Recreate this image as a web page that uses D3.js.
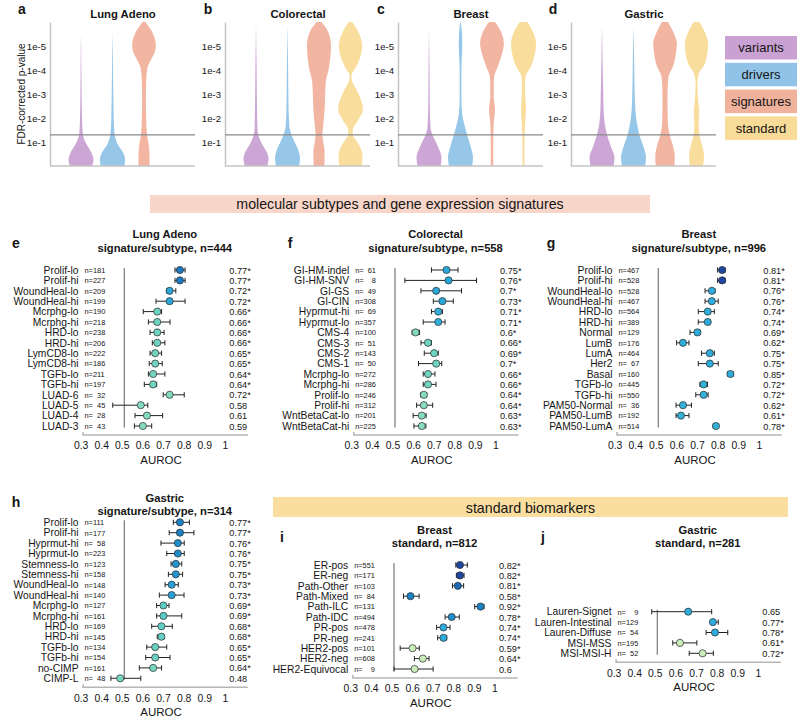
<!DOCTYPE html>
<html><head><meta charset="utf-8">
<script src="https://cdn.jsdelivr.net/npm/d3@7"></script>
<style>
body{margin:0;background:#fff;}
svg text{font-family:"Liberation Sans",Arial,Helvetica,sans-serif;fill:#151515;}
</style></head><body>
<svg id="chart" width="800" height="719"></svg>
<script>
// ---------------- DATA ----------------
const violinCategories = ["variants","drivers","signatures","standard"];
const violinTitles = ["Lung Adeno","Colorectal","Breast","Gastric"];
const violinLetters = ["a","b","c","d"];
const pTickExponents = [1,2,3,4,5];
const significanceP = 0.05;

// violin densities: [-log10(FDR p), relative half-width]
const lungAdenoVariants   = [[0,.88],[.25,1],[.55,.84],[.85,.5],[1.1,.26],[1.4,.13],[2,.08],[3,.05],[4,.03],[5,.015],[5.45,0]];
const lungAdenoDrivers    = [[0,.96],[.28,1],[.6,.8],[.9,.42],[1.2,.21],[1.6,.12],[2.5,.08],[3.5,.05],[4.5,.03],[5.6,0]];
const lungAdenoSignatures = [[0,.45],[.4,.44],[.8,.4],[1.3,.24],[2,.17],[2.8,.15],[3.6,.18],[4.1,.28],[4.4,.53],[4.7,.82],[5,.95],[5.5,.73],[5.8,.4],[6,.12]];

const colorectalVariants   = [[0,.9],[.3,1],[.6,.84],[.9,.5],[1.2,.24],[1.5,.12],[2.5,.08],[4,.05],[5.9,0]];
const colorectalDrivers    = [[0,.92],[.3,1],[.7,.84],[1,.56],[1.3,.32],[1.7,.14],[2.5,.08],[4,.05],[5.9,0]];
const colorectalSignatures = [[0,.43],[.6,.45],[1,.34],[1.3,.27],[1.7,.34],[2.2,.43],[2.8,.48],[3.45,.53],[4.1,.8],[5,.96],[5.5,.8],[5.8,.5],[6,.2]];
const colorectalStandard   = [[0,.9],[.4,.96],[.8,.76],[1.1,.4],[1.3,.18],[1.5,.18],[1.9,.6],[2.35,1],[2.9,.73],[3.3,.35],[3.5,.15],[3.75,.07],[4.15,.47],[4.6,.82],[5,.93],[5.5,.7],[5.8,.4],[6,.15]];

const breastVariants   = [[0,.93],[.35,1],[.8,.72],[1.1,.45],[1.3,.27],[1.6,.12],[2.5,.06],[4,.04],[5.7,0]];
const breastDrivers    = [[0,.93],[.35,1],[.8,.82],[1.3,.53],[1.8,.27],[2.2,.13],[2.8,.07],[4,.07],[4.5,.1],[5,.14],[5.5,.12],[6,.02]];
const breastSignatures = [[0,.1],[1,.1],[1.8,.14],[2.35,.24],[2.9,.14],[3.4,.14],[3.75,.18],[4.15,.47],[4.55,.73],[5.1,.95],[5.5,.8],[5.8,.5],[6,.25]];
const breastStandard   = [[0,.08],[1,.08],[1.8,.14],[2.4,.2],[2.9,.14],[3.4,.12],[3.75,.17],[4.15,.6],[4.6,.88],[5.1,1],[5.5,.83],[5.8,.55],[6,.3]];

const gastricVariants   = [[0,.93],[.35,1],[.8,.72],[1.3,.4],[1.8,.21],[2.3,.13],[3,.1],[4,.06],[5,.03],[5.8,0]];
const gastricDrivers    = [[0,.93],[.35,1],[.8,.8],[1.3,.47],[1.8,.27],[2.3,.15],[3.4,.08],[4.5,.05],[5.8,0]];
const gastricSignatures = [[0,.75],[.4,.78],[.8,.66],[1.3,.37],[1.8,.23],[2.8,.2],[3.5,.24],[3.8,.32],[4.15,.64],[4.8,.9],[5.1,.95],[5.5,.73],[5.8,.45],[6,.25]];
const gastricStandard   = [[0,.53],[.4,.6],[.9,.43],[1.3,.23],[1.8,.17],[2.2,.22],[2.75,.13],[3.45,.07],[3.85,.2],[4.3,.7],[5.1,.93],[5.5,.73],[5.8,.45],[6,.25]];

const bannerTexts = ["molecular subtypes and gene expression signatures","standard biomarkers"];
const aurocTicks = [0.3,0.4,0.5,0.6,0.7,0.8,0.9,1];

// forest rows: [label, n, AUROC, CI low, CI high, significant, colour score]
const lungAdenoRows = [
 ["Prolif-lo",181,0.77,0.746,0.795,1,0.80],["Prolif-hi",227,0.77,0.746,0.795,1,0.80],
 ["WoundHeal-lo",209,0.72,0.706,0.750,1,0.66],["WoundHeal-hi",199,0.72,0.654,0.795,1,0.66],
 ["Mcrphg-lo",190,0.66,0.592,0.681,1,0.45],["Mcrphg-hi",218,0.66,0.617,0.722,1,0.45],
 ["HRD-lo",238,0.66,0.625,0.693,1,0.45],["HRD-hi",206,0.66,0.636,0.697,1,0.45],
 ["LymCD8-lo",222,0.65,0.625,0.681,1,0.44],["LymCD8-hi",186,0.65,0.621,0.684,1,0.44],
 ["TGFb-lo",211,0.64,0.617,0.697,1,0.43],["TGFb-hi",197,0.64,0.597,0.657,1,0.43],
 ["LUAD-6",32,0.72,0.689,0.791,1,0.37],["LUAD-5",45,0.58,0.444,0.614,0,0.37],
 ["LUAD-4",28,0.61,0.552,0.686,0,0.37],["LUAD-3",43,0.59,0.549,0.633,0,0.37]];
const colorectalRows = [
 ["GI-HM-indel",61,0.75,0.677,0.806,1,0.66],["GI-HM-SNV",8,0.76,0.548,0.896,1,0.66],
 ["GI-GS",49,0.7,0.626,0.823,1,0.66],["GI-CIN",308,0.73,0.686,0.783,1,0.66],
 ["Hyprmut-hi",69,0.71,0.677,0.730,1,0.63],["Hyprmut-lo",357,0.71,0.637,0.743,1,0.63],
 ["CMS-4",100,0.6,0.583,0.619,1,0.38],["CMS-3",51,0.66,0.626,0.677,1,0.45],
 ["CMS-2",143,0.69,0.642,0.710,1,0.45],["CMS-1",50,0.7,0.614,0.727,1,0.45],
 ["Mcrphg-lo",272,0.66,0.637,0.694,1,0.43],["Mcrphg-hi",286,0.66,0.637,0.699,1,0.43],
 ["Prolif-lo",246,0.64,0.625,0.654,1,0.36],["Prolif-hi",312,0.64,0.605,0.683,1,0.36],
 ["WntBetaCat-lo",201,0.63,0.588,0.651,1,0.36],["WntBetaCat-hi",225,0.63,0.592,0.650,1,0.36]];
const breastRows = [
 ["Prolif-lo",467,0.81,0.788,0.824,1,0.92],["Prolif-hi",528,0.81,0.788,0.824,1,0.92],
 ["WoundHeal-lo",528,0.76,0.727,0.775,1,0.64],["WoundHeal-hi",467,0.76,0.727,0.791,1,0.64],
 ["HRD-lo",564,0.74,0.694,0.772,1,0.64],["HRD-hi",389,0.74,0.694,0.751,1,0.64],
 ["Normal",129,0.69,0.654,0.703,1,0.64],["LumB",176,0.62,0.589,0.649,1,0.64],
 ["LumA",464,0.75,0.71,0.772,1,0.64],["Her2",67,0.75,0.694,0.791,1,0.64],
 ["Basal",160,0.85,0.837,0.864,1,0.64],["TGFb-lo",445,0.72,0.702,0.739,1,0.62],
 ["TGFb-hi",550,0.72,0.682,0.742,1,0.62],["PAM50-Normal",36,0.62,0.586,0.661,1,0.62],
 ["PAM50-LumB",192,0.61,0.586,0.649,1,0.62],["PAM50-LumA",514,0.78,0.767,0.791,1,0.62]];
const gastricRows = [
 ["Prolif-lo",111,0.77,0.738,0.816,1,0.78],["Prolif-hi",177,0.77,0.718,0.838,1,0.78],
 ["Hyprmut-hi",58,0.76,0.678,0.791,1,0.74],["Hyprmut-lo",223,0.76,0.706,0.791,1,0.74],
 ["Stemness-lo",123,0.75,0.727,0.779,1,0.72],["Stemness-hi",158,0.75,0.714,0.783,1,0.72],
 ["WoundHeal-lo",148,0.73,0.698,0.762,1,0.68],["WoundHeal-hi",140,0.73,0.67,0.79,1,0.68],
 ["Mcrphg-lo",127,0.69,0.657,0.717,1,0.5],["Mcrphg-hi",161,0.69,0.657,0.779,1,0.5],
 ["HRD-lo",169,0.68,0.633,0.733,1,0.48],["HRD-hi",145,0.68,0.66,0.693,1,0.48],
 ["TGFb-lo",134,0.65,0.609,0.706,1,0.46],["TGFb-hi",154,0.65,0.604,0.722,1,0.46],
 ["no-CIMP",161,0.64,0.573,0.681,1,0.42],["CIMP-L",48,0.48,0.435,0.58,0,0.42]];
const breastStandardRows = [
 ["ER-pos",551,0.82,0.80,0.856,1,0.92],["ER-neg",171,0.82,0.803,0.84,1,0.92],
 ["Path-Other",103,0.81,0.784,0.838,1,0.83],["Path-Mixed",84,0.58,0.546,0.622,1,0.78],
 ["Path-ILC",131,0.92,0.892,0.937,1,0.78],["Path-IDC",494,0.78,0.748,0.817,1,0.74],
 ["PR-pos",478,0.74,0.707,0.772,1,0.64],["PR-neg",241,0.74,0.712,0.756,1,0.64],
 ["HER2-pos",101,0.59,0.53,0.623,1,0.25],["HER2-neg",608,0.64,0.599,0.67,1,0.25],
 ["HER2-Equivocal",9,0.6,0.50,0.69,0,0.25]];
const gastricStandardRows = [
 ["Lauren-Signet",9,0.65,0.473,0.764,0,0.64],["Lauren-Intestinal",129,0.77,0.764,0.796,1,0.64],
 ["Lauren-Diffuse",54,0.78,0.737,0.842,1,0.64],["MSI-MSS",195,0.61,0.575,0.692,1,0.25],
 ["MSI-MSI-H",52,0.72,0.655,0.772,1,0.25]];

const forestTitles = [
 ["e","Lung Adeno","signature/subtype",444],["f","Colorectal","signature/subtype",558],
 ["g","Breast","signature/subtype",996],["h","Gastric","signature/subtype",314],
 ["i","Breast","standard",812],["j","Gastric","standard",281]];

// ---------------- DRAWING ----------------
const svg = d3.select("#chart");
const violinColor = d3.scaleOrdinal().domain(violinCategories)
  .range(["#c9a2d3","#90c3e7","#f0b19d","#f8db97"]);

// top violin panels
const vTop = 22, vBottom = 166;
const yV = d3.scaleLog().domain([1, 1e-6]).range([vBottom, vTop]);
const xCat = d3.scalePoint().domain(violinCategories).range([31, 125.5]);
const wScale = d3.scaleLinear().domain([0, 1]).range([0, 12.5]);
const violinData = [
  [lungAdenoVariants, lungAdenoDrivers, lungAdenoSignatures, null],
  [colorectalVariants, colorectalDrivers, colorectalSignatures, colorectalStandard],
  [breastVariants, breastDrivers, breastSignatures, breastStandard],
  [gastricVariants, gastricDrivers, gastricSignatures, gastricStandard]];
const panelX = [50, 225, 398, 571];
const panelW = 145;

violinData.forEach((sets, pi) => {
  const g = svg.append("g").attr("transform", `translate(${panelX[pi]},0)`);
  sets.forEach((dens, ci) => {
    if (!dens) return;
    const cat = violinCategories[ci];
    const cx = xCat(cat);
    const area = d3.area().curve(d3.curveMonotoneY)
      .y(d => yV(Math.pow(10, -d[0])))
      .x0(d => cx - wScale(d[1]))
      .x1(d => cx + wScale(d[1]));
    g.append("path").attr("d", area(dens)).attr("fill", violinColor(cat)).attr("opacity", 0.95);
  });
  // y axis
  const ax = d3.axisLeft(yV).tickValues(pTickExponents.map(e => Math.pow(10, -e)))
    .tickFormat(d => "1e-" + Math.round(-Math.log10(d))).tickSize(0).tickPadding(4);
  const axG = g.append("g").call(ax);
  axG.select(".domain").attr("stroke", "#c4c4c4").attr("stroke-width", 1.5);
  axG.selectAll("text").attr("font-size", 9.6).attr("fill", "#151515")
     .attr("font-family", '"Liberation Sans",Arial,sans-serif');
  // bottom axis line
  g.append("line").attr("x1", 0).attr("x2", panelW).attr("y1", vBottom).attr("y2", vBottom)
    .attr("stroke", "#c4c4c4").attr("stroke-width", 1.5);
  // significance threshold
  g.append("line").attr("x1", 0).attr("x2", panelW).attr("y1", yV(significanceP)).attr("y2", yV(significanceP))
    .attr("stroke", "#8a8a8a").attr("stroke-width", 1.3);
  g.append("text").attr("x", 73).attr("y", 18).attr("text-anchor", "middle")
    .attr("font-size", 11.3).attr("font-weight", "bold").text(violinTitles[pi]);
});
[[22,14],[208,14],[381,14],[553,14]].forEach((p, i) => {
  svg.append("text").attr("x", p[0]).attr("y", p[1]).attr("text-anchor", "middle")
    .attr("font-size", 14).attr("font-weight", "bold").text(violinLetters[i]);
});
svg.append("text").attr("transform", "translate(25,94) rotate(-90)").attr("text-anchor", "middle")
  .attr("font-size", 10).text("FDR-corrected p-value");

// legend
violinCategories.forEach((c, i) => {
  const y0 = 36 + i * 26.8;
  svg.append("rect").attr("x", 725).attr("y", y0).attr("width", 72).attr("height", 23.5)
    .attr("fill", violinColor(c));
  svg.append("text").attr("x", 761).attr("y", y0 + 16.3).attr("text-anchor", "middle")
    .attr("font-size", 13).text(c);
});

// banners
svg.append("rect").attr("x", 150).attr("y", 195).attr("width", 500).attr("height", 18).attr("fill", "#f9d6ca");
svg.append("text").attr("x", 400).attr("y", 209).attr("text-anchor", "middle").attr("font-size", 14.2).text(bannerTexts[0]);
svg.append("rect").attr("x", 273).attr("y", 497).attr("width", 515).attr("height", 20).attr("fill", "#f9dea0");
svg.append("text").attr("x", 530.5).attr("y", 512.5).attr("text-anchor", "middle").attr("font-size", 14.2).text(bannerTexts[1]);

// forest plots
const dotColor = d3.scaleLinear()
  .domain([0.25, 0.36, 0.45, 0.52, 0.64, 0.78, 0.92])
  .range(["#cbedba", "#86dbc0", "#6ed3c0", "#55c8c8", "#2eacdb", "#1c80c4", "#1f479f"]);

const forestLayouts = [
  {x05:124.3, row0:270,   t1:238, t2:251.5, lx:16,  ly:248},
  {x05:395,   row0:270,   t1:238, t2:251.5, lx:290, ly:248},
  {x05:658.3, row0:270,   t1:238, t2:251.5, lx:551, ly:248},
  {x05:124.3, row0:522.3, t1:502, t2:514.5, lx:16,  ly:507},
  {x05:394,   row0:565,   t1:534, t2:546.5, lx:282, ly:542},
  {x05:657.3, row0:611.7, t1:534, t2:546.5, lx:543, ly:542}];
const forestData = [lungAdenoRows, colorectalRows, breastRows, gastricRows, breastStandardRows, gastricStandardRows];

forestData.forEach((rows, pi) => {
  const L = forestLayouts[pi], T = forestTitles[pi];
  const x = d3.scaleLinear().domain([0.3, 1.1]).range([L.x05 - 0.2 * 206, L.x05 + 0.6 * 206]);
  const y = d3.scalePoint().domain(rows.map((d, i) => i)).range([L.row0, L.row0 + (rows.length - 1) * 10.4]);
  const g = svg.append("g");
  const last = y(rows.length - 1);

  g.append("text").attr("x", L.lx).attr("y", L.ly).attr("text-anchor", "middle")
    .attr("font-size", 14).attr("font-weight", "bold").text(T[0]);
  g.append("text").attr("x", L.x05 + 40.5).attr("y", L.t1).attr("text-anchor", "middle")
    .attr("font-size", 11.2).attr("font-weight", "bold").text(T[1]);
  g.append("text").attr("x", L.x05 + 40.5).attr("y", L.t2).attr("text-anchor", "middle")
    .attr("font-size", 11.2).attr("font-weight", "bold").text(`${T[2]}, n=${T[3]}`);

  // reference line at 0.5
  g.append("line").attr("x1", x(0.5)).attr("x2", x(0.5)).attr("y1", L.row0 - 2).attr("y2", last + 1.5)
    .attr("stroke", "#777").attr("stroke-width", 1.2);

  // x axis
  const axY = last + 9;
  const ax = d3.axisBottom(x).tickValues(aurocTicks).tickFormat(d => String(d)).tickSize(0).tickPadding(7);
  const axG = g.append("g").attr("transform", `translate(0,${axY})`).call(ax);
  axG.select(".domain").remove();
  axG.selectAll("text").attr("font-size", 10.4).attr("fill", "#151515").attr("dx", -2.5)
     .attr("font-family", '"Liberation Sans",Arial,sans-serif');
  g.append("path").attr("d", `M${x(0.3)},${axY - 3}V${axY}H${x(1.1)}`)
    .attr("fill", "none").attr("stroke", "#b5b5b5").attr("stroke-width", 1.5);
  g.append("text").attr("x", (x(0.3) + x(1.1)) / 2 - 4.5).attr("y", axY + 28.5).attr("text-anchor", "middle")
    .attr("font-size", 11.5).text("AUROC");

  const row = g.selectAll("g.row").data(rows).join("g").attr("class", "row")
    .attr("transform", (d, i) => `translate(0,${y(i)})`);
  row.append("text").attr("x", L.x05 - 45.8).attr("y", 3.7).attr("text-anchor", "end")
    .attr("font-size", 10.3).text(d => d[0]);
  row.append("text").attr("x", L.x05 - 39.8).attr("y", 2.8).attr("font-size", 7.4)
    .style("white-space", "pre").text(d => "n=" + String(d[1]).padStart(3, " ").replace(/ /g, "  "));
  row.append("line").attr("x1", d => x(d[3])).attr("x2", d => x(d[4])).attr("stroke", "#222").attr("stroke-width", 1);
  row.append("line").attr("x1", d => x(d[3])).attr("x2", d => x(d[3])).attr("y1", -2.6).attr("y2", 2.6).attr("stroke", "#222").attr("stroke-width", 1);
  row.append("line").attr("x1", d => x(d[4])).attr("x2", d => x(d[4])).attr("y1", -2.6).attr("y2", 2.6).attr("stroke", "#222").attr("stroke-width", 1);
  row.append("circle").attr("cx", d => x(d[2])).attr("r", 3.6).attr("fill", d => dotColor(d[6]))
    .attr("stroke", "#2a2a2a").attr("stroke-width", 0.7);
  row.append("text").attr("x", L.x05 + 105).attr("y", 3.5).attr("font-size", 9.2)
    .text(d => String(d[2]) + (d[5] ? "*" : ""));
});
</script>
</body></html>
